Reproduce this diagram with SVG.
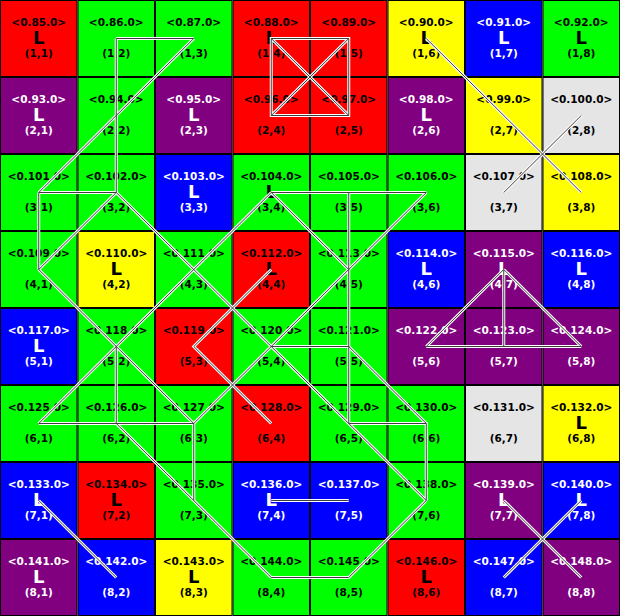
<svg xmlns="http://www.w3.org/2000/svg" xmlns:xlink="http://www.w3.org/1999/xlink" width="620" height="616" viewBox="0 0 620 616">
<style>
.node rect{stroke:#000;stroke-width:1}
.R{fill:#ff0000}.G{fill:#00ff00}.B{fill:#0000ff}.P{fill:#800080}.Y{fill:#ffff00}.Q{fill:#e5e5e5}
text{font-family:"DejaVu Sans","Liberation Sans",sans-serif;font-weight:bold;text-anchor:middle}
.lb,.cd{font-size:10.5px}
.L{font-size:18px}
.k{fill:#000}.w{fill:#fff}
</style>
<defs>
<g id="edge-set" fill="none" stroke-linejoin="miter">
<path d="M116.25 38.5H193.75"/>
<path d="M116.25 38.5V192.5"/>
<path d="M193.75 38.5L38.75 192.5"/>
<path d="M38.75 192.5H116.25"/>
<path d="M38.75 192.5V269.5"/>
<path d="M116.25 192.5L38.75 269.5"/>
<path d="M116.25 192.5L426.25 500.5"/>
<path d="M38.75 269.5L193.75 423.5"/>
<path d="M271.25 192.5L38.75 423.5"/>
<path d="M116.25 346.5V423.5"/>
<path d="M38.75 423.5H193.75"/>
<path d="M116.25 423.5L271.25 577.5"/>
<path d="M193.75 423.5V500.5"/>
<path d="M271.25 38.5H348.75V115.5H271.25Z"/>
<path d="M271.25 38.5L348.75 115.5"/>
<path d="M271.25 115.5L348.75 38.5"/>
<path d="M426.25 38.5L581.25 192.5"/>
<path d="M581.25 115.5L503.75 192.5"/>
<path d="M271.25 192.5H426.25"/>
<path d="M271.25 192.5L348.75 269.5"/>
<path d="M426.25 192.5L193.75 423.5"/>
<path d="M348.75 192.5V423.5"/>
<path d="M271.25 346.5H348.75"/>
<path d="M271.25 269.5L193.75 346.5L271.25 423.5"/>
<path d="M503.75 269.5L426.25 346.5"/>
<path d="M503.75 269.5L581.25 346.5"/>
<path d="M503.75 269.5V346.5"/>
<path d="M426.25 346.5H581.25"/>
<path d="M348.75 346.5L426.25 423.5"/>
<path d="M348.75 423.5H426.25V500.5"/>
<path d="M426.25 500.5L348.75 577.5H271.25"/>
<path d="M271.25 500.5H348.75"/>
<path d="M38.75 500.5L116.25 577.5"/>
<path d="M503.75 500.5L581.25 577.5"/>
<path d="M581.25 500.5L503.75 577.5"/>
</g>
</defs>
<g id="nodes">
<g id="n1-1" class="node"><rect class="R" x="0.5" y="0.5" width="76.5" height="76"/><text class="lb k" x="38.75" y="25.5">&lt;0.85.0&gt;</text><text class="L k" x="38.75" y="44.3">L</text><text class="cd k" x="38.75" y="57">(1,1)</text></g>
<g id="n1-2" class="node"><rect class="G" x="78" y="0.5" width="76.5" height="76"/><text class="lb k" x="116.25" y="25.5">&lt;0.86.0&gt;</text><text class="cd k" x="116.25" y="57">(1,2)</text></g>
<g id="n1-3" class="node"><rect class="G" x="155.5" y="0.5" width="76.5" height="76"/><text class="lb k" x="193.75" y="25.5">&lt;0.87.0&gt;</text><text class="cd k" x="193.75" y="57">(1,3)</text></g>
<g id="n1-4" class="node"><rect class="R" x="233" y="0.5" width="76.5" height="76"/><text class="lb k" x="271.25" y="25.5">&lt;0.88.0&gt;</text><text class="L k" x="271.25" y="44.3">L</text><text class="cd k" x="271.25" y="57">(1,4)</text></g>
<g id="n1-5" class="node"><rect class="R" x="310.5" y="0.5" width="76.5" height="76"/><text class="lb k" x="348.75" y="25.5">&lt;0.89.0&gt;</text><text class="cd k" x="348.75" y="57">(1,5)</text></g>
<g id="n1-6" class="node"><rect class="Y" x="388" y="0.5" width="76.5" height="76"/><text class="lb k" x="426.25" y="25.5">&lt;0.90.0&gt;</text><text class="L k" x="426.25" y="44.3">L</text><text class="cd k" x="426.25" y="57">(1,6)</text></g>
<g id="n1-7" class="node"><rect class="B" x="465.5" y="0.5" width="76.5" height="76"/><text class="lb w" x="503.75" y="25.5">&lt;0.91.0&gt;</text><text class="L w" x="503.75" y="44.3">L</text><text class="cd w" x="503.75" y="57">(1,7)</text></g>
<g id="n1-8" class="node"><rect class="G" x="543" y="0.5" width="76.5" height="76"/><text class="lb k" x="581.25" y="25.5">&lt;0.92.0&gt;</text><text class="L k" x="581.25" y="44.3">L</text><text class="cd k" x="581.25" y="57">(1,8)</text></g>

<g id="n2-1" class="node"><rect class="P" x="0.5" y="77.5" width="76.5" height="76"/><text class="lb w" x="38.75" y="102.5">&lt;0.93.0&gt;</text><text class="L w" x="38.75" y="121.3">L</text><text class="cd w" x="38.75" y="134">(2,1)</text></g>
<g id="n2-2" class="node"><rect class="G" x="78" y="77.5" width="76.5" height="76"/><text class="lb k" x="116.25" y="102.5">&lt;0.94.0&gt;</text><text class="cd k" x="116.25" y="134">(2,2)</text></g>
<g id="n2-3" class="node"><rect class="P" x="155.5" y="77.5" width="76.5" height="76"/><text class="lb w" x="193.75" y="102.5">&lt;0.95.0&gt;</text><text class="L w" x="193.75" y="121.3">L</text><text class="cd w" x="193.75" y="134">(2,3)</text></g>
<g id="n2-4" class="node"><rect class="R" x="233" y="77.5" width="76.5" height="76"/><text class="lb k" x="271.25" y="102.5">&lt;0.96.0&gt;</text><text class="cd k" x="271.25" y="134">(2,4)</text></g>
<g id="n2-5" class="node"><rect class="R" x="310.5" y="77.5" width="76.5" height="76"/><text class="lb k" x="348.75" y="102.5">&lt;0.97.0&gt;</text><text class="cd k" x="348.75" y="134">(2,5)</text></g>
<g id="n2-6" class="node"><rect class="P" x="388" y="77.5" width="76.5" height="76"/><text class="lb w" x="426.25" y="102.5">&lt;0.98.0&gt;</text><text class="L w" x="426.25" y="121.3">L</text><text class="cd w" x="426.25" y="134">(2,6)</text></g>
<g id="n2-7" class="node"><rect class="Y" x="465.5" y="77.5" width="76.5" height="76"/><text class="lb k" x="503.75" y="102.5">&lt;0.99.0&gt;</text><text class="cd k" x="503.75" y="134">(2,7)</text></g>
<g id="n2-8" class="node"><rect class="Q" x="543" y="77.5" width="76.5" height="76"/><text class="lb k" x="581.25" y="102.5">&lt;0.100.0&gt;</text><text class="cd k" x="581.25" y="134">(2,8)</text></g>

<g id="n3-1" class="node"><rect class="G" x="0.5" y="154.5" width="76.5" height="76"/><text class="lb k" x="38.75" y="179.5">&lt;0.101.0&gt;</text><text class="cd k" x="38.75" y="211">(3,1)</text></g>
<g id="n3-2" class="node"><rect class="G" x="78" y="154.5" width="76.5" height="76"/><text class="lb k" x="116.25" y="179.5">&lt;0.102.0&gt;</text><text class="cd k" x="116.25" y="211">(3,2)</text></g>
<g id="n3-3" class="node"><rect class="B" x="155.5" y="154.5" width="76.5" height="76"/><text class="lb w" x="193.75" y="179.5">&lt;0.103.0&gt;</text><text class="L w" x="193.75" y="198.3">L</text><text class="cd w" x="193.75" y="211">(3,3)</text></g>
<g id="n3-4" class="node"><rect class="G" x="233" y="154.5" width="76.5" height="76"/><text class="lb k" x="271.25" y="179.5">&lt;0.104.0&gt;</text><text class="L k" x="271.25" y="198.3">L</text><text class="cd k" x="271.25" y="211">(3,4)</text></g>
<g id="n3-5" class="node"><rect class="G" x="310.5" y="154.5" width="76.5" height="76"/><text class="lb k" x="348.75" y="179.5">&lt;0.105.0&gt;</text><text class="cd k" x="348.75" y="211">(3,5)</text></g>
<g id="n3-6" class="node"><rect class="G" x="388" y="154.5" width="76.5" height="76"/><text class="lb k" x="426.25" y="179.5">&lt;0.106.0&gt;</text><text class="cd k" x="426.25" y="211">(3,6)</text></g>
<g id="n3-7" class="node"><rect class="Q" x="465.5" y="154.5" width="76.5" height="76"/><text class="lb k" x="503.75" y="179.5">&lt;0.107.0&gt;</text><text class="cd k" x="503.75" y="211">(3,7)</text></g>
<g id="n3-8" class="node"><rect class="Y" x="543" y="154.5" width="76.5" height="76"/><text class="lb k" x="581.25" y="179.5">&lt;0.108.0&gt;</text><text class="cd k" x="581.25" y="211">(3,8)</text></g>

<g id="n4-1" class="node"><rect class="G" x="0.5" y="231.5" width="76.5" height="76"/><text class="lb k" x="38.75" y="256.5">&lt;0.109.0&gt;</text><text class="cd k" x="38.75" y="288">(4,1)</text></g>
<g id="n4-2" class="node"><rect class="Y" x="78" y="231.5" width="76.5" height="76"/><text class="lb k" x="116.25" y="256.5">&lt;0.110.0&gt;</text><text class="L k" x="116.25" y="275.3">L</text><text class="cd k" x="116.25" y="288">(4,2)</text></g>
<g id="n4-3" class="node"><rect class="G" x="155.5" y="231.5" width="76.5" height="76"/><text class="lb k" x="193.75" y="256.5">&lt;0.111.0&gt;</text><text class="cd k" x="193.75" y="288">(4,3)</text></g>
<g id="n4-4" class="node"><rect class="R" x="233" y="231.5" width="76.5" height="76"/><text class="lb k" x="271.25" y="256.5">&lt;0.112.0&gt;</text><text class="L k" x="271.25" y="275.3">L</text><text class="cd k" x="271.25" y="288">(4,4)</text></g>
<g id="n4-5" class="node"><rect class="G" x="310.5" y="231.5" width="76.5" height="76"/><text class="lb k" x="348.75" y="256.5">&lt;0.113.0&gt;</text><text class="cd k" x="348.75" y="288">(4,5)</text></g>
<g id="n4-6" class="node"><rect class="B" x="388" y="231.5" width="76.5" height="76"/><text class="lb w" x="426.25" y="256.5">&lt;0.114.0&gt;</text><text class="L w" x="426.25" y="275.3">L</text><text class="cd w" x="426.25" y="288">(4,6)</text></g>
<g id="n4-7" class="node"><rect class="P" x="465.5" y="231.5" width="76.5" height="76"/><text class="lb w" x="503.75" y="256.5">&lt;0.115.0&gt;</text><text class="L w" x="503.75" y="275.3">L</text><text class="cd w" x="503.75" y="288">(4,7)</text></g>
<g id="n4-8" class="node"><rect class="B" x="543" y="231.5" width="76.5" height="76"/><text class="lb w" x="581.25" y="256.5">&lt;0.116.0&gt;</text><text class="L w" x="581.25" y="275.3">L</text><text class="cd w" x="581.25" y="288">(4,8)</text></g>

<g id="n5-1" class="node"><rect class="B" x="0.5" y="308.5" width="76.5" height="76"/><text class="lb w" x="38.75" y="333.5">&lt;0.117.0&gt;</text><text class="L w" x="38.75" y="352.3">L</text><text class="cd w" x="38.75" y="365">(5,1)</text></g>
<g id="n5-2" class="node"><rect class="G" x="78" y="308.5" width="76.5" height="76"/><text class="lb k" x="116.25" y="333.5">&lt;0.118.0&gt;</text><text class="cd k" x="116.25" y="365">(5,2)</text></g>
<g id="n5-3" class="node"><rect class="R" x="155.5" y="308.5" width="76.5" height="76"/><text class="lb k" x="193.75" y="333.5">&lt;0.119.0&gt;</text><text class="cd k" x="193.75" y="365">(5,3)</text></g>
<g id="n5-4" class="node"><rect class="G" x="233" y="308.5" width="76.5" height="76"/><text class="lb k" x="271.25" y="333.5">&lt;0.120.0&gt;</text><text class="cd k" x="271.25" y="365">(5,4)</text></g>
<g id="n5-5" class="node"><rect class="G" x="310.5" y="308.5" width="76.5" height="76"/><text class="lb k" x="348.75" y="333.5">&lt;0.121.0&gt;</text><text class="cd k" x="348.75" y="365">(5,5)</text></g>
<g id="n5-6" class="node"><rect class="P" x="388" y="308.5" width="76.5" height="76"/><text class="lb w" x="426.25" y="333.5">&lt;0.122.0&gt;</text><text class="cd w" x="426.25" y="365">(5,6)</text></g>
<g id="n5-7" class="node"><rect class="P" x="465.5" y="308.5" width="76.5" height="76"/><text class="lb w" x="503.75" y="333.5">&lt;0.123.0&gt;</text><text class="cd w" x="503.75" y="365">(5,7)</text></g>
<g id="n5-8" class="node"><rect class="P" x="543" y="308.5" width="76.5" height="76"/><text class="lb w" x="581.25" y="333.5">&lt;0.124.0&gt;</text><text class="cd w" x="581.25" y="365">(5,8)</text></g>

<g id="n6-1" class="node"><rect class="G" x="0.5" y="385.5" width="76.5" height="76"/><text class="lb k" x="38.75" y="410.5">&lt;0.125.0&gt;</text><text class="cd k" x="38.75" y="442">(6,1)</text></g>
<g id="n6-2" class="node"><rect class="G" x="78" y="385.5" width="76.5" height="76"/><text class="lb k" x="116.25" y="410.5">&lt;0.126.0&gt;</text><text class="cd k" x="116.25" y="442">(6,2)</text></g>
<g id="n6-3" class="node"><rect class="G" x="155.5" y="385.5" width="76.5" height="76"/><text class="lb k" x="193.75" y="410.5">&lt;0.127.0&gt;</text><text class="cd k" x="193.75" y="442">(6,3)</text></g>
<g id="n6-4" class="node"><rect class="R" x="233" y="385.5" width="76.5" height="76"/><text class="lb k" x="271.25" y="410.5">&lt;0.128.0&gt;</text><text class="cd k" x="271.25" y="442">(6,4)</text></g>
<g id="n6-5" class="node"><rect class="G" x="310.5" y="385.5" width="76.5" height="76"/><text class="lb k" x="348.75" y="410.5">&lt;0.129.0&gt;</text><text class="cd k" x="348.75" y="442">(6,5)</text></g>
<g id="n6-6" class="node"><rect class="G" x="388" y="385.5" width="76.5" height="76"/><text class="lb k" x="426.25" y="410.5">&lt;0.130.0&gt;</text><text class="cd k" x="426.25" y="442">(6,6)</text></g>
<g id="n6-7" class="node"><rect class="Q" x="465.5" y="385.5" width="76.5" height="76"/><text class="lb k" x="503.75" y="410.5">&lt;0.131.0&gt;</text><text class="cd k" x="503.75" y="442">(6,7)</text></g>
<g id="n6-8" class="node"><rect class="Y" x="543" y="385.5" width="76.5" height="76"/><text class="lb k" x="581.25" y="410.5">&lt;0.132.0&gt;</text><text class="L k" x="581.25" y="429.3">L</text><text class="cd k" x="581.25" y="442">(6,8)</text></g>

<g id="n7-1" class="node"><rect class="B" x="0.5" y="462.5" width="76.5" height="76"/><text class="lb w" x="38.75" y="487.5">&lt;0.133.0&gt;</text><text class="L w" x="38.75" y="506.3">L</text><text class="cd w" x="38.75" y="519">(7,1)</text></g>
<g id="n7-2" class="node"><rect class="R" x="78" y="462.5" width="76.5" height="76"/><text class="lb k" x="116.25" y="487.5">&lt;0.134.0&gt;</text><text class="L k" x="116.25" y="506.3">L</text><text class="cd k" x="116.25" y="519">(7,2)</text></g>
<g id="n7-3" class="node"><rect class="G" x="155.5" y="462.5" width="76.5" height="76"/><text class="lb k" x="193.75" y="487.5">&lt;0.135.0&gt;</text><text class="cd k" x="193.75" y="519">(7,3)</text></g>
<g id="n7-4" class="node"><rect class="B" x="233" y="462.5" width="76.5" height="76"/><text class="lb w" x="271.25" y="487.5">&lt;0.136.0&gt;</text><text class="L w" x="271.25" y="506.3">L</text><text class="cd w" x="271.25" y="519">(7,4)</text></g>
<g id="n7-5" class="node"><rect class="B" x="310.5" y="462.5" width="76.5" height="76"/><text class="lb w" x="348.75" y="487.5">&lt;0.137.0&gt;</text><text class="cd w" x="348.75" y="519">(7,5)</text></g>
<g id="n7-6" class="node"><rect class="G" x="388" y="462.5" width="76.5" height="76"/><text class="lb k" x="426.25" y="487.5">&lt;0.138.0&gt;</text><text class="cd k" x="426.25" y="519">(7,6)</text></g>
<g id="n7-7" class="node"><rect class="P" x="465.5" y="462.5" width="76.5" height="76"/><text class="lb w" x="503.75" y="487.5">&lt;0.139.0&gt;</text><text class="L w" x="503.75" y="506.3">L</text><text class="cd w" x="503.75" y="519">(7,7)</text></g>
<g id="n7-8" class="node"><rect class="B" x="543" y="462.5" width="76.5" height="76"/><text class="lb w" x="581.25" y="487.5">&lt;0.140.0&gt;</text><text class="L w" x="581.25" y="506.3">L</text><text class="cd w" x="581.25" y="519">(7,8)</text></g>

<g id="n8-1" class="node"><rect class="P" x="0.5" y="539.5" width="76.5" height="76"/><text class="lb w" x="38.75" y="564.5">&lt;0.141.0&gt;</text><text class="L w" x="38.75" y="583.3">L</text><text class="cd w" x="38.75" y="596">(8,1)</text></g>
<g id="n8-2" class="node"><rect class="B" x="78" y="539.5" width="76.5" height="76"/><text class="lb w" x="116.25" y="564.5">&lt;0.142.0&gt;</text><text class="cd w" x="116.25" y="596">(8,2)</text></g>
<g id="n8-3" class="node"><rect class="Y" x="155.5" y="539.5" width="76.5" height="76"/><text class="lb k" x="193.75" y="564.5">&lt;0.143.0&gt;</text><text class="L k" x="193.75" y="583.3">L</text><text class="cd k" x="193.75" y="596">(8,3)</text></g>
<g id="n8-4" class="node"><rect class="G" x="233" y="539.5" width="76.5" height="76"/><text class="lb k" x="271.25" y="564.5">&lt;0.144.0&gt;</text><text class="cd k" x="271.25" y="596">(8,4)</text></g>
<g id="n8-5" class="node"><rect class="G" x="310.5" y="539.5" width="76.5" height="76"/><text class="lb k" x="348.75" y="564.5">&lt;0.145.0&gt;</text><text class="cd k" x="348.75" y="596">(8,5)</text></g>
<g id="n8-6" class="node"><rect class="R" x="388" y="539.5" width="76.5" height="76"/><text class="lb k" x="426.25" y="564.5">&lt;0.146.0&gt;</text><text class="L k" x="426.25" y="583.3">L</text><text class="cd k" x="426.25" y="596">(8,6)</text></g>
<g id="n8-7" class="node"><rect class="B" x="465.5" y="539.5" width="76.5" height="76"/><text class="lb w" x="503.75" y="564.5">&lt;0.147.0&gt;</text><text class="cd w" x="503.75" y="596">(8,7)</text></g>
<g id="n8-8" class="node"><rect class="P" x="543" y="539.5" width="76.5" height="76"/><text class="lb w" x="581.25" y="564.5">&lt;0.148.0&gt;</text><text class="cd w" x="581.25" y="596">(8,8)</text></g>
</g>
<g id="connectors">
<use xlink:href="#edge-set" href="#edge-set" stroke="#ffffff" stroke-width="3"/>
<use xlink:href="#edge-set" href="#edge-set" stroke="#3c3c3c" stroke-width="1"/>
</g>
</svg>
